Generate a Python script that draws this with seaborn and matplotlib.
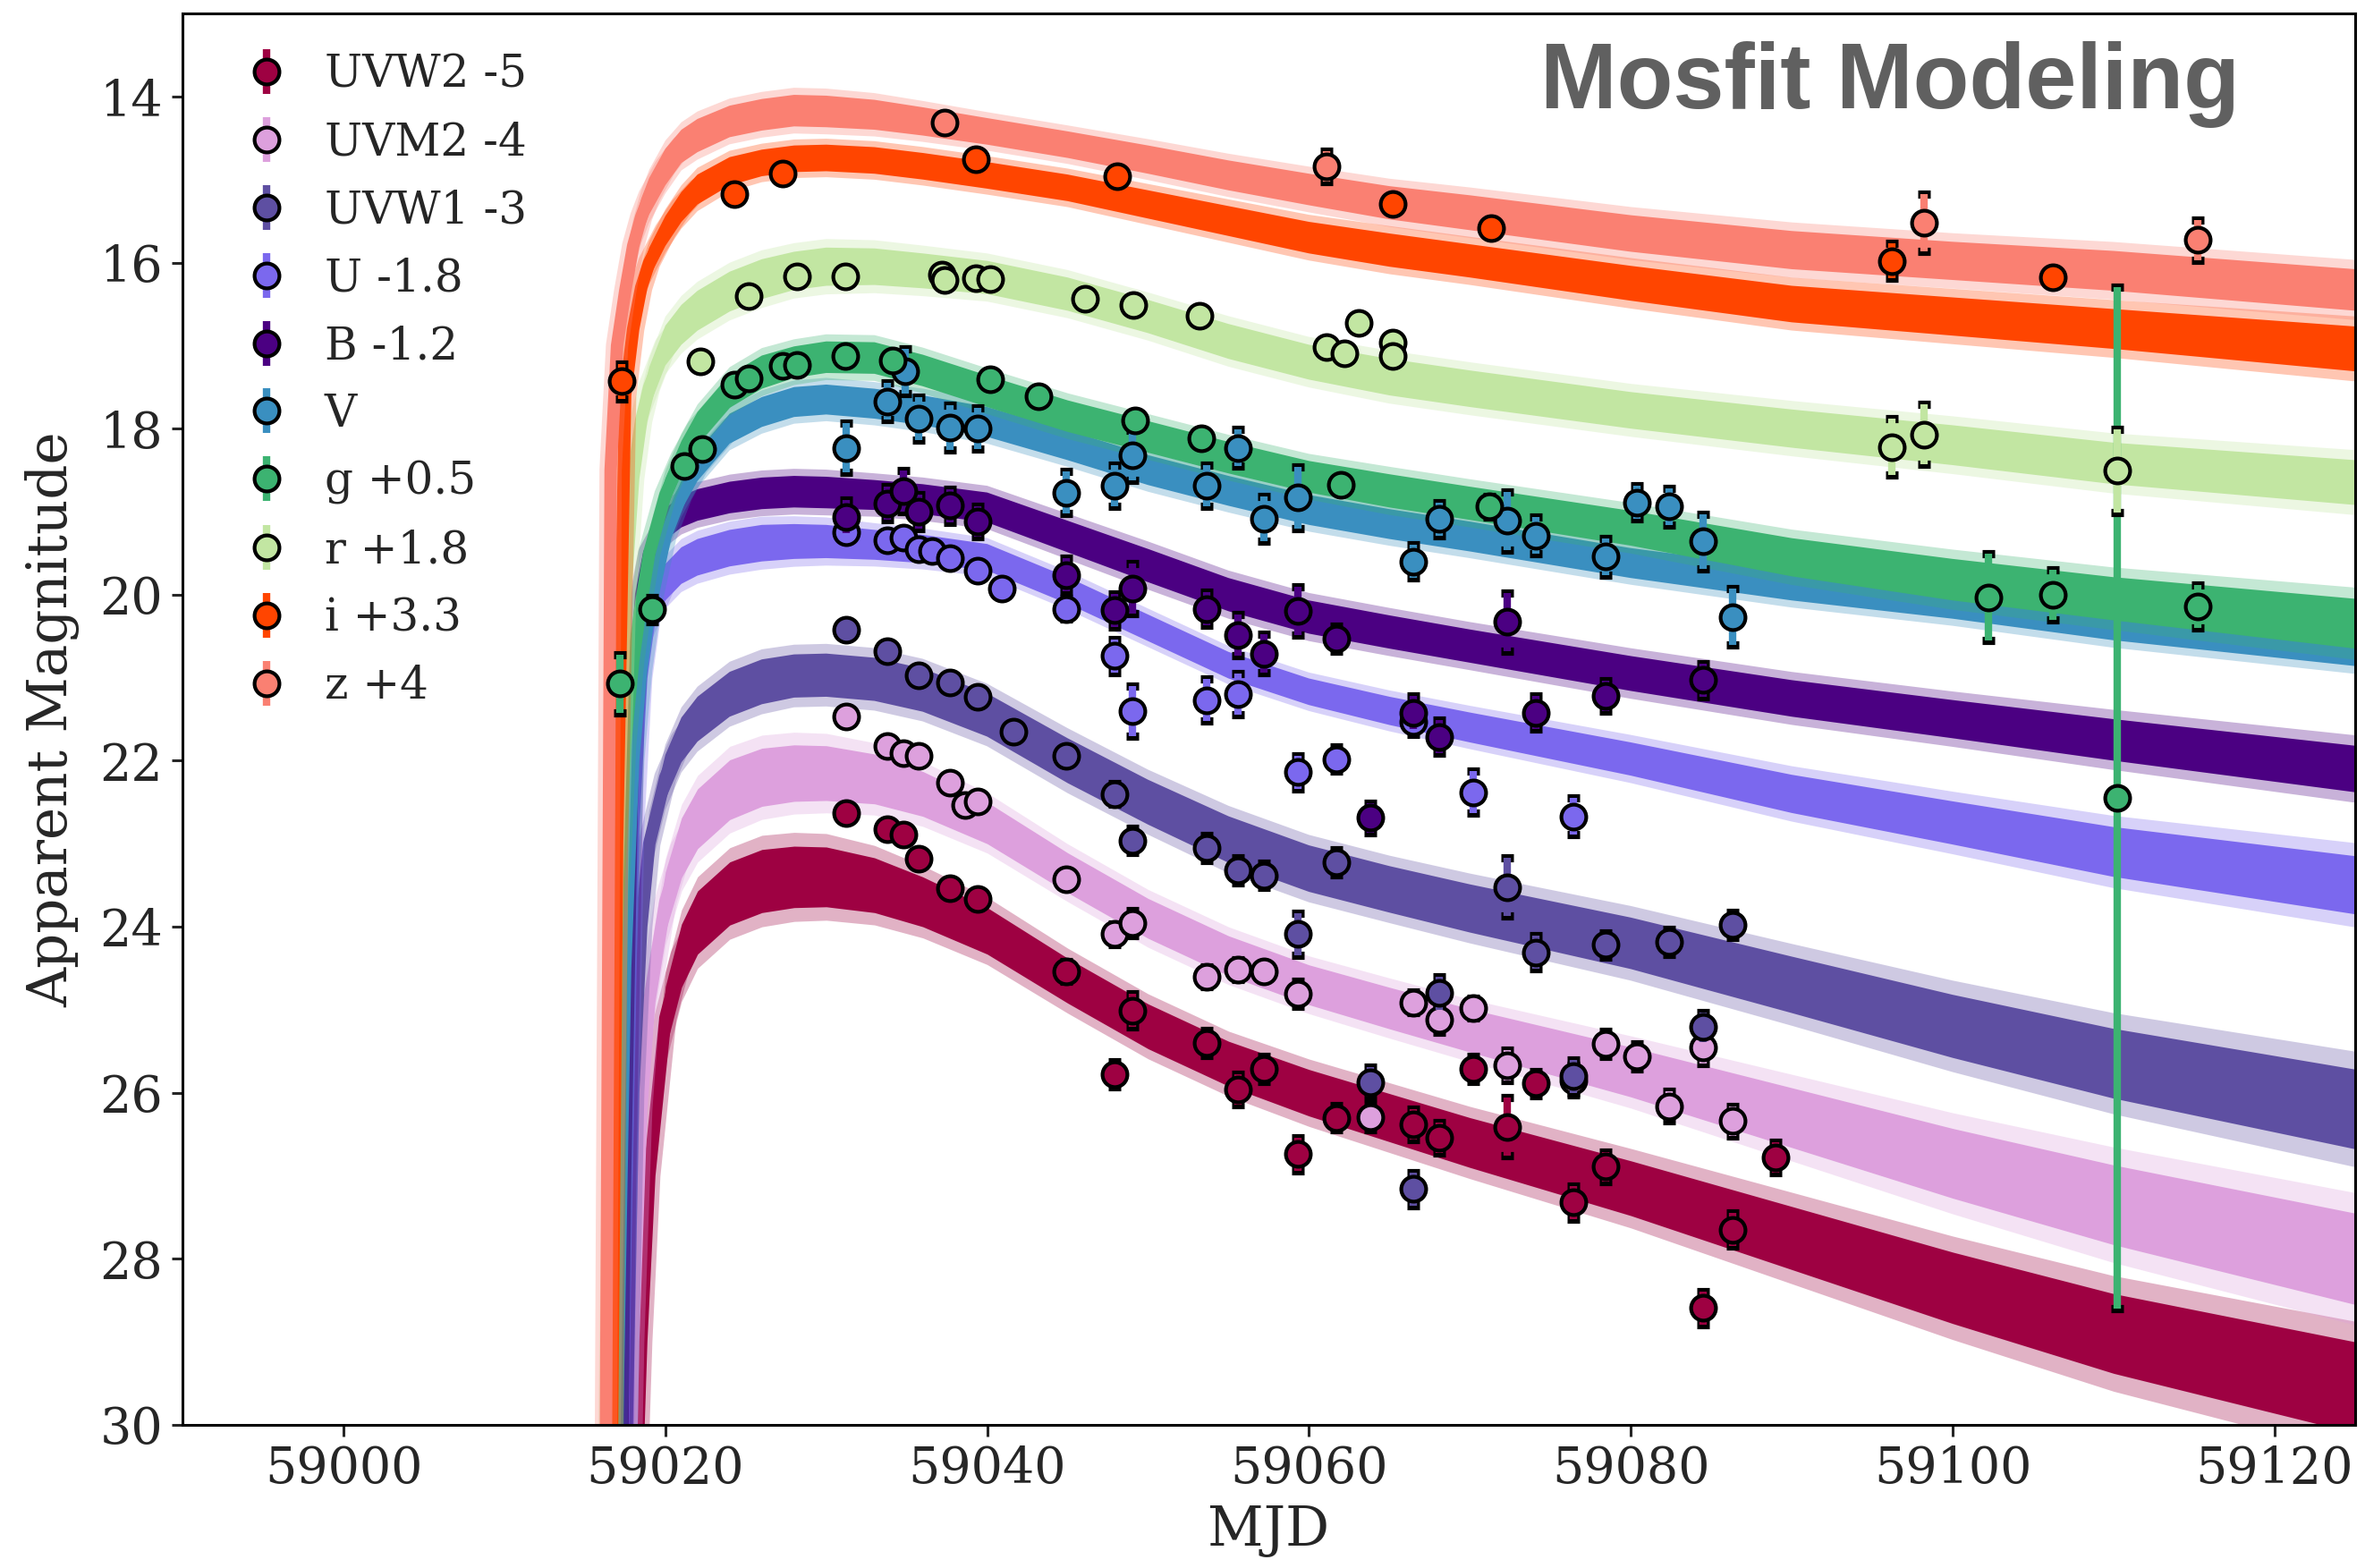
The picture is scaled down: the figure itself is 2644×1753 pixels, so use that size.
import matplotlib
matplotlib.use('Agg')
from matplotlib import pyplot as plt
import seaborn as sns

sns.set_style('ticks')
plt.rcParams['font.family'] = ['DejaVu Serif']
plt.rcParams['axes.linewidth'] = 1.1

# ---------------- model bands: centre and half-width of the mosfit realisations ----------------
model_mjd = [59015.6, 59016.0, 59016.3, 59016.6, 59017.0, 59017.5, 59018.0, 59018.5, 59019.0, 59020.0,
             59021.0, 59022.0, 59024.0, 59026.0, 59028.0, 59030.0, 59033.0, 59036.0, 59040.0, 59045.0,
             59050.0, 59055.0, 59060.0, 59065.0, 59070.0, 59080.0, 59090.0, 59100.0, 59110.0, 59125.0]

uvw2_model = [40, 40, 40, 40, 40, 37.0, 32.0, 29.0, 27.0, 25.1, 24.35, 23.95, 23.6, 23.45, 23.4, 23.4,
              23.5, 23.7, 24.05, 24.65, 25.2, 25.65, 26.0, 26.3, 26.6, 27.15, 27.75, 28.35, 28.9, 29.55]
uvm2_model = [40, 40, 40, 40, 40, 34.0, 29.0, 26.2, 24.9, 23.7, 23.05, 22.7, 22.35, 22.2, 22.15, 22.15,
              22.22, 22.4, 22.75, 23.35, 23.9, 24.35, 24.7, 24.98, 25.25, 25.75, 26.3, 26.85, 27.35, 28.0]
uvw1_model = [40, 40, 40, 40, 38, 31.0, 26.0, 24.0, 23.0, 22.2, 21.75, 21.5, 21.2, 21.05, 20.98, 20.97,
              21.02, 21.15, 21.45, 22.0, 22.5, 22.95, 23.3, 23.55, 23.78, 24.2, 24.7, 25.2, 25.65, 26.2]
u_model = [40, 40, 40, 40, 36, 28.0, 22.8, 21.0, 20.3, 19.85, 19.65, 19.55, 19.44, 19.38, 19.36, 19.36,
           19.4, 19.45, 19.55, 19.95, 20.4, 20.85, 21.17, 21.4, 21.6, 21.98, 22.4, 22.75, 23.1, 23.5]
b_model = [40, 40, 40, 40, 36, 27.0, 21.5, 20.0, 19.5, 19.15, 19.0, 18.92, 18.83, 18.78, 18.76, 18.77,
           18.8, 18.85, 18.95, 19.3, 19.65, 20.0, 20.27, 20.45, 20.62, 20.95, 21.25, 21.5, 21.75, 22.1]
v_model = [40, 40, 38, 36, 30, 24.5, 22.0, 20.9, 20.2, 19.3, 18.8, 18.45, 18.0, 17.8, 17.68, 17.65,
           17.7, 17.78, 17.92, 18.2, 18.5, 18.75, 18.98, 19.15, 19.3, 19.62, 19.88, 20.1, 20.35, 20.65]
g_model = [40, 38, 36, 33, 24.0, 21.8, 20.8, 20.1, 19.5, 18.8, 18.35, 18.0, 17.55, 17.32, 17.2, 17.14,
           17.15, 17.3, 17.55, 17.85, 18.1, 18.35, 18.58, 18.75, 18.9, 19.2, 19.55, 19.82, 20.05, 20.35]
r_model = [40, 38, 34, 29, 23.5, 20.0, 18.6, 17.9, 17.5, 17.0, 16.75, 16.58, 16.35, 16.2, 16.1, 16.05,
           16.05, 16.1, 16.18, 16.38, 16.65, 16.95, 17.2, 17.38, 17.52, 17.78, 18.0, 18.2, 18.42, 18.65]
i_model = [40, 40, 36, 32, 23.0, 17.6, 16.8, 16.3, 16.0, 15.62, 15.33, 15.12, 14.9, 14.8, 14.75, 14.74,
           14.77, 14.84, 14.95, 15.1, 15.3, 15.5, 15.7, 15.85, 15.98, 16.25, 16.5, 16.65, 16.8, 17.04]
z_model = [40, 36, 30.5, 18.5, 17.0, 16.35, 15.8, 15.45, 15.2, 14.85, 14.6, 14.47, 14.3, 14.22, 14.17, 14.18,
           14.22, 14.3, 14.42, 14.58, 14.76, 14.95, 15.12, 15.28, 15.4, 15.65, 15.85, 15.98, 16.1, 16.33]

uvw2_width = [0.38, 0.38, 0.38, 0.38, 0.38, 0.38, 0.38, 0.38, 0.38, 0.38, 0.38, 0.38, 0.38, 0.38, 0.37,
              0.36, 0.33, 0.30, 0.28, 0.27, 0.27, 0.27, 0.28, 0.29, 0.30, 0.33, 0.38, 0.43, 0.48, 0.55]
uvm2_width = [0.36, 0.36, 0.36, 0.36, 0.36, 0.36, 0.36, 0.36, 0.36, 0.36, 0.36, 0.36, 0.36, 0.35, 0.34,
              0.33, 0.30, 0.27, 0.25, 0.24, 0.24, 0.24, 0.24, 0.25, 0.26, 0.30, 0.36, 0.42, 0.48, 0.55]
uvw1_width = [0.27, 0.27, 0.27, 0.27, 0.27, 0.27, 0.27, 0.27, 0.27, 0.27, 0.27, 0.27, 0.27, 0.27, 0.26,
              0.26, 0.26, 0.26, 0.26, 0.27, 0.27, 0.28, 0.28, 0.28, 0.29, 0.31, 0.34, 0.38, 0.42, 0.48]
u_width = [0.22, 0.22, 0.22, 0.22, 0.22, 0.22, 0.22, 0.22, 0.22, 0.22, 0.22, 0.22, 0.22, 0.22, 0.21,
           0.20, 0.18, 0.17, 0.16, 0.16, 0.16, 0.16, 0.16, 0.17, 0.18, 0.20, 0.23, 0.26, 0.30, 0.35]
b_width = [0.19, 0.19, 0.19, 0.19, 0.19, 0.19, 0.19, 0.19, 0.19, 0.19, 0.19, 0.19, 0.19, 0.19, 0.19,
           0.19, 0.18, 0.18, 0.18, 0.19, 0.20, 0.20, 0.20, 0.20, 0.20, 0.21, 0.22, 0.23, 0.25, 0.28]
v_width = [0.18, 0.18, 0.18, 0.18, 0.18, 0.18, 0.18, 0.18, 0.18, 0.18, 0.18, 0.18, 0.18, 0.18, 0.18,
           0.18, 0.18, 0.18, 0.18, 0.18, 0.18, 0.18, 0.18, 0.18, 0.18, 0.18, 0.19, 0.19, 0.20, 0.21]
g_width = [0.20, 0.20, 0.20, 0.20, 0.20, 0.20, 0.20, 0.20, 0.20, 0.20, 0.20, 0.20, 0.20, 0.20, 0.19,
           0.19, 0.19, 0.19, 0.19, 0.19, 0.19, 0.19, 0.19, 0.20, 0.20, 0.21, 0.23, 0.25, 0.26, 0.30]
r_width = [0.24, 0.24, 0.24, 0.24, 0.24, 0.24, 0.24, 0.24, 0.24, 0.24, 0.24, 0.24, 0.24, 0.24, 0.23,
           0.23, 0.22, 0.21, 0.20, 0.20, 0.20, 0.21, 0.21, 0.22, 0.22, 0.22, 0.23, 0.24, 0.25, 0.27]
i_width = [0.18, 0.18, 0.18, 0.18, 0.18, 0.18, 0.18, 0.18, 0.18, 0.18, 0.18, 0.18, 0.17, 0.16, 0.16,
           0.16, 0.16, 0.16, 0.16, 0.16, 0.17, 0.18, 0.19, 0.20, 0.20, 0.21, 0.22, 0.23, 0.24, 0.27]
z_width = [0.22, 0.22, 0.22, 0.22, 0.22, 0.22, 0.22, 0.22, 0.22, 0.22, 0.20, 0.20, 0.19, 0.19, 0.19,
           0.19, 0.18, 0.17, 0.16, 0.16, 0.17, 0.18, 0.19, 0.20, 0.21, 0.22, 0.23, 0.23, 0.24, 0.25]

# ---------------- photometry (plotted, i.e. offset, magnitudes) ----------------
uvw2_mjd = [59031.25, 59033.8, 59034.8, 59035.75, 59037.7, 59039.4, 59044.9, 59047.9, 59049.0, 59053.65,
            59055.6, 59057.2, 59059.3, 59061.7, 59066.5, 59068.1, 59070.2, 59072.3, 59074.1, 59076.4,
            59078.4, 59084.5, 59086.3, 59089.0]
uvw2_mag = [22.63, 22.83, 22.89, 23.18, 23.54, 23.67, 24.54, 25.78, 25.01, 25.40, 25.96, 25.71, 26.74, 26.30,
            26.38, 26.54, 25.71, 26.41, 25.89, 27.32, 26.89, 28.59, 27.65, 26.78]
uvw2_err = [0.08, 0.08, 0.10, 0.10, 0.10, 0.10, 0.12, 0.15, 0.20, 0.15, 0.18, 0.15, 0.20, 0.15, 0.18, 0.18,
            0.15, 0.35, 0.15, 0.20, 0.18, 0.20, 0.20, 0.18]

uvm2_mjd = [59031.25, 59033.8, 59034.8, 59035.75, 59037.7, 59038.65, 59039.4, 59044.9, 59047.9, 59049.0,
            59053.65, 59055.6, 59057.2, 59059.3, 59063.8, 59066.5, 59068.1, 59070.2, 59072.3, 59076.4,
            59078.4, 59080.35, 59082.4, 59084.5, 59086.3]
uvm2_mag = [21.47, 21.82, 21.91, 21.94, 22.27, 22.53, 22.49, 23.43, 24.09, 23.96, 24.60, 24.52, 24.54, 24.81,
            26.29, 24.91, 25.12, 24.98, 25.67, 25.85, 25.41, 25.56, 26.16, 25.45, 26.34]
uvm2_err = [0.05, 0.06, 0.07, 0.07, 0.08, 0.08, 0.08, 0.10, 0.12, 0.15, 0.12, 0.12, 0.10, 0.15, 0.15, 0.12,
            0.15, 0.12, 0.18, 0.18, 0.15, 0.15, 0.18, 0.20, 0.18]

uvw1_mjd = [59031.25, 59033.8, 59035.75, 59037.7, 59039.4, 59041.65, 59044.9, 59047.9, 59049.0, 59053.65,
            59055.6, 59057.2, 59059.3, 59061.7, 59063.8, 59066.5, 59068.1, 59072.3, 59074.1, 59076.4,
            59078.4, 59082.4, 59084.5, 59086.3]
uvw1_mag = [20.42, 20.68, 20.97, 21.06, 21.23, 21.65, 21.94, 22.40, 22.96, 23.05, 23.32, 23.38, 24.09, 23.22,
            25.87, 27.16, 24.80, 23.52, 24.31, 25.80, 24.22, 24.18, 25.21, 23.98]
uvw1_err = [0.05, 0.05, 0.08, 0.08, 0.08, 0.10, 0.10, 0.12, 0.15, 0.15, 0.15, 0.15, 0.25, 0.15, 0.18, 0.20,
            0.20, 0.35, 0.20, 0.20, 0.15, 0.15, 0.18, 0.15]

u_mjd = [59031.25, 59033.8, 59034.8, 59035.75, 59036.6, 59037.7, 59039.4, 59040.9, 59044.9, 59047.9,
         59049.0, 59053.65, 59055.6, 59059.3, 59061.7, 59066.5, 59070.2, 59076.4]
u_mag = [19.25, 19.35, 19.31, 19.45, 19.47, 19.56, 19.71, 19.93, 20.17, 20.74, 21.40, 21.27, 21.20, 22.14,
         21.98, 21.53, 22.38, 22.67]
u_err = [0.08, 0.05, 0.05, 0.05, 0.05, 0.05, 0.05, 0.05, 0.12, 0.20, 0.30, 0.25, 0.25, 0.20, 0.15, 0.15,
         0.25, 0.22]

b_mjd = [59031.25, 59033.8, 59034.8, 59035.75, 59037.7, 59039.4, 59044.9, 59047.9, 59049.0, 59053.65,
         59055.6, 59057.2, 59059.3, 59061.7, 59063.8, 59066.5, 59068.1, 59072.3, 59074.1, 59078.4, 59084.5]
b_mag = [19.06, 18.90, 18.75, 19.00, 18.93, 19.12, 19.76, 20.19, 19.93, 20.17, 20.49, 20.71, 20.20, 20.53,
         22.69, 21.42, 21.71, 20.33, 21.42, 21.22, 21.03]
b_err = [0.20, 0.20, 0.25, 0.20, 0.20, 0.18, 0.20, 0.20, 0.30, 0.20, 0.25, 0.23, 0.29, 0.15, 0.18, 0.20,
         0.20, 0.35, 0.20, 0.18, 0.20]

v_mjd = [59031.25, 59033.8, 59034.9, 59035.75, 59037.7, 59039.4, 59044.9, 59047.9, 59049.0, 59053.65,
         59055.6, 59057.2, 59059.3, 59066.5, 59068.1, 59072.3, 59074.1, 59078.4, 59080.35, 59082.4,
         59084.5, 59086.3]
v_mag = [18.23, 17.67, 17.31, 17.88, 17.99, 18.00, 18.77, 18.69, 18.32, 18.69, 18.23, 19.09, 18.83, 19.60,
         19.09, 19.11, 19.29, 19.54, 18.89, 18.94, 19.36, 20.27]
v_err = [0.30, 0.22, 0.27, 0.26, 0.27, 0.25, 0.25, 0.25, 0.30, 0.25, 0.22, 0.27, 0.37, 0.20, 0.20, 0.35,
         0.22, 0.22, 0.20, 0.22, 0.33, 0.34]

g_mjd = [59017.2, 59019.2, 59021.2, 59022.3, 59024.3, 59025.2, 59027.3, 59028.2, 59031.2, 59034.1,
         59040.2, 59043.2, 59049.2, 59053.3, 59062.0, 59071.2, 59102.2, 59106.2, 59110.2, 59115.2]
g_mag = [21.07, 20.18, 18.45, 18.25, 17.47, 17.39, 17.24, 17.23, 17.13, 17.18, 17.41, 17.61, 17.90, 18.12,
         18.68, 18.94, 20.03, 20.00, 22.45, 20.14]
g_err = [0.35, 0.15, 0.08, 0.08, 0.05, 0.05, 0.05, 0.05, 0.05, 0.05, 0.05, 0.05, 0.05, 0.05, 0.05, 0.12,
         0.52, 0.30, 6.15, 0.26]

r_mjd = [59022.2, 59025.2, 59028.2, 59031.2, 59037.2, 59037.35, 59039.3, 59040.2, 59046.1, 59049.1,
         59053.2, 59061.1, 59062.2, 59063.1, 59065.2, 59065.2, 59096.2, 59098.2, 59110.2]
r_mag = [17.19, 16.40, 16.17, 16.17, 16.14, 16.21, 16.19, 16.20, 16.44, 16.51, 16.64, 17.02, 17.09, 16.73,
         16.96, 17.13, 18.22, 18.07, 18.51]
r_err = [0.05, 0.05, 0.05, 0.05, 0.05, 0.05, 0.05, 0.05, 0.05, 0.05, 0.05, 0.10, 0.05, 0.05, 0.05, 0.05,
         0.34, 0.36, 0.50]

i_mjd = [59017.3, 59024.3, 59027.3, 59039.3, 59048.1, 59065.2, 59071.3, 59096.2, 59106.2]
i_mag = [17.43, 15.18, 14.93, 14.75, 14.96, 15.29, 15.58, 15.98, 16.18]
i_err = [0.21, 0.05, 0.05, 0.05, 0.05, 0.08, 0.10, 0.21, 0.08]

z_mjd = [59037.35, 59061.1, 59098.2, 59115.2]
z_mag = [14.31, 14.84, 15.52, 15.73]
z_err = [0.05, 0.18, 0.34, 0.24]

labels = ['UVW2 -5', 'UVM2 -4', 'UVW1 -3', 'U -1.8', 'B -1.2', 'V', 'g +0.5', 'r +1.8', 'i +3.3', 'z +4']
colors = ['#9E0142', '#DDA0DD', '#5E4FA2', '#7B68EE', '#4B0082', '#3A8FC0', '#3CB371', '#C2E6A2',
          '#FF4500', '#FA8072']

bands = [
    (uvw2_model, uvw2_width, uvw2_mjd, uvw2_mag, uvw2_err),
    (uvm2_model, uvm2_width, uvm2_mjd, uvm2_mag, uvm2_err),
    (uvw1_model, uvw1_width, uvw1_mjd, uvw1_mag, uvw1_err),
    (u_model, u_width, u_mjd, u_mag, u_err),
    (b_model, b_width, b_mjd, b_mag, b_err),
    (v_model, v_width, v_mjd, v_mag, v_err),
    (g_model, g_width, g_mjd, g_mag, g_err),
    (r_model, r_width, r_mjd, r_mag, r_err),
    (i_model, i_width, i_mjd, i_mag, i_err),
    (z_model, z_width, z_mjd, z_mag, z_err),
]

fig = plt.figure(figsize=(13.22, 8.765), dpi=200)
ax = fig.add_axes([0.0772, 0.0913, 0.9186, 0.9001])

# model bands first (underneath the points): faint outer spread, dense core, centre line
for k, (model, width, _, _, _) in enumerate(bands):
    z0 = 1 + 0.1 * k
    outer_lo = [c - 1.45 * w for c, w in zip(model, width)]
    outer_hi = [c + 1.45 * w for c, w in zip(model, width)]
    core_lo = [c - w for c, w in zip(model, width)]
    core_hi = [c + w for c, w in zip(model, width)]
    ax.fill_between(model_mjd, outer_lo, outer_hi, color=colors[k], alpha=0.3, lw=0, zorder=z0)
    sns.lineplot(x=model_mjd, y=model, ax=ax, color=colors[k], lw=9, alpha=0.3, sort=False,
                 solid_capstyle='butt', zorder=z0 + 0.01)
    ax.fill_between(model_mjd, core_lo, core_hi, color=colors[k], lw=0, zorder=z0 + 0.02)
    sns.lineplot(x=model_mjd, y=model, ax=ax, color=colors[k], lw=5, sort=False,
                 solid_capstyle='butt', solid_joinstyle='round', zorder=z0 + 0.03)

handles = []
for k, (_, _, mjd, mag, err) in enumerate(bands):
    lo = [m - e for m, e in zip(mag, err)]
    hi = [m + e for m, e in zip(mag, err)]
    # black caps sit under the coloured bar
    ax.plot(mjd + mjd, lo + hi, ls='none', marker='_', ms=5, mew=3.3, color='k', zorder=3 + 0.1 * k)
    h = ax.errorbar(mjd, mag, yerr=err, fmt='o', color=colors[k], ms=10, mec='k', mew=1.5,
                    elinewidth=3, capsize=0, label=labels[k], zorder=3.05 + 0.1 * k)
    handles.append(h)

ax.set_xlim(58990, 59125)
ax.set_ylim(30, 13)
ax.set_xticks([59000, 59020, 59040, 59060, 59080, 59100, 59120])
ax.set_yticks([14, 16, 18, 20, 22, 24, 26, 28, 30])
ax.tick_params(labelsize=20, length=4.5, width=1.1)
ax.set_xlabel('MJD', fontsize=22, labelpad=4)
ax.set_ylabel('Apparent Magnitude', fontsize=22, labelpad=8)
for s in ax.spines.values():
    s.set_linewidth(1.1)
    s.set_color('k')

ax.legend(handles=handles, labels=labels, loc='upper left', bbox_to_anchor=(0.02, 0.985),
          borderaxespad=0, frameon=False, fontsize=18, handlelength=1.0, handletextpad=0.8,
          labelspacing=0.53)

ax.text(0.947, 0.933, 'Mosfit Modeling', transform=ax.transAxes, ha='right', va='baseline',
        fontsize=37, fontweight='bold', color='#606060', family=['Liberation Sans', 'DejaVu Sans'])

fig.savefig('out.png', dpi=200)
